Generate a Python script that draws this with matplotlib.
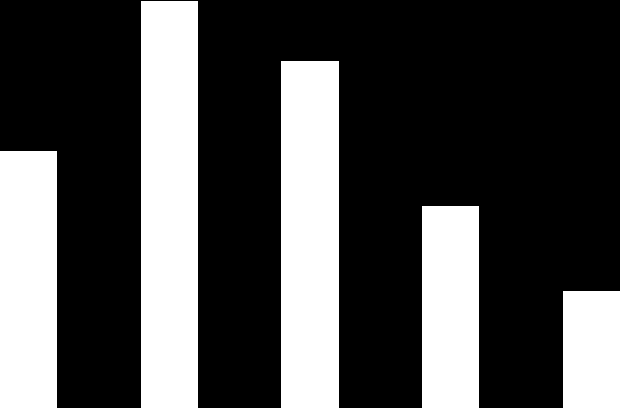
import matplotlib
matplotlib.use("Agg")
import matplotlib.pyplot as plt

# bar values (pixel heights, axis runs 0..408)
categories = ["A", "B", "C", "D", "E"]
values = [257, 407, 347, 202, 117]

fig = plt.figure(figsize=(6.2, 4.08), dpi=100, facecolor="black")
ax = fig.add_axes([0, 0, 1, 1])
ax.set_facecolor("black")

x = list(range(len(categories)))
ax.bar(x, values, width=0.405, color="white", edgecolor="none")

ax.set_xlim(-0.2025, len(categories) - 1 + 0.2025)
ax.set_ylim(0, 408)
ax.axis("off")

fig.savefig("out.png", dpi=100, facecolor="black")
